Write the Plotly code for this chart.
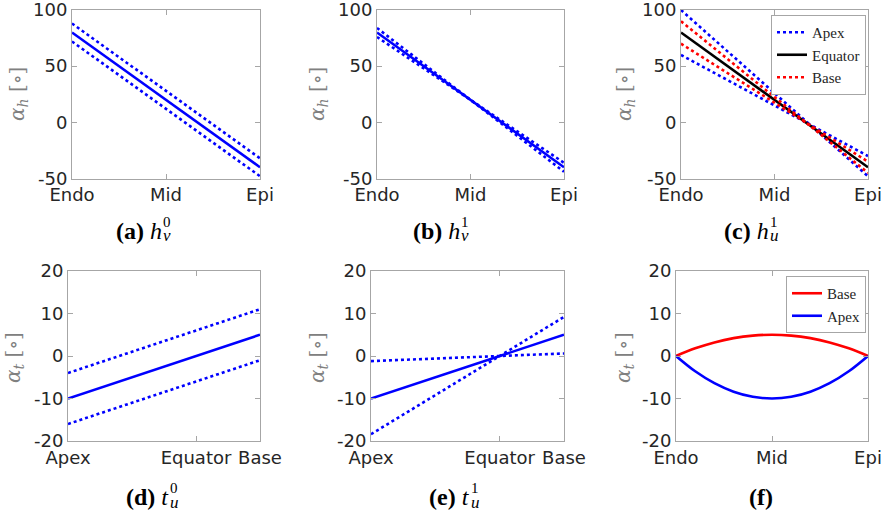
import plotly.graph_objects as go

W, H = 885, 520

# ---------------- data ----------------
x_wall = [0, 1]                      # Endo -> Epi
wall_ticks = [0, 0.5, 1]
wall_labels = ["Endo", "Mid", "Epi"]

x_long = [0, 1]                      # Apex -> Base
long_ticks = [0, 2 / 3, 1]
long_labels = ["Apex", "Equator", "Base"]

h_ticks = [-50, 0, 50, 100]
h_labels = ["-50", "0", "50", "100"]
t_ticks = [-20, -10, 0, 10, 20]
t_labels = ["-20", "-10", "0", "10", "20"]

# (a) h_v^0
a_mid = [80, -40]
a_hi = [88, -32]
a_lo = [72, -48]
# (b) h_v^1
b_mid = [80, -40]
b_one = [84, -44]
b_two = [76, -36]
# (c) h_u^1
c_apex_hi = [100, -48]
c_apex_lo = [60, -30]
c_equator = [80, -40]
c_base_hi = [90, -45]
c_base_lo = [70, -35]
# (d) t_u^0
d_mid = [-10, 5]
d_hi = [-4, 11]
d_lo = [-16, -1]
# (e) t_u^1
e_mid = [-10, 5]
e_flat = [-1.2, 0.6]
e_steep = [-18.4, 9.2]
# (f)
x_f = [0, 0.1, 0.2, 0.3, 0.4, 0.5, 0.6, 0.7, 0.8, 0.9, 1.0]
f_base = [0, 1.8, 3.2, 4.2, 4.8, 5, 4.8, 4.2, 3.2, 1.8, 0]
f_apex = [0, -3.6, -6.4, -8.4, -9.6, -10, -9.6, -8.4, -6.4, -3.6, 0]

BLUE, RED, BLACK = "#0000ff", "#ff0000", "#000000"
AX = "#a6a6a6"
TXT = "#262626"


def fx(px):
    return px / W


def fy(py):
    return 1 - py / H


# axes boxes in pixels: (left, right, top, bottom)
boxes = [
    (72, 260, 10, 178.5),
    (377, 564, 10, 178.5),
    (681, 868, 10, 178.5),
    (68, 260, 271, 441),
    (371, 564, 271, 441),
    (676, 868, 271, 441),
]

fig = go.Figure()


def add(i, x, y, color, dash="solid", width=2.6, name=None, show=False, group=None, legend="legend"):
    sfx = "" if i == 0 else str(i + 1)
    fig.add_trace(go.Scatter(
        x=x, y=y, mode="lines",
        line=dict(color=color, dash=dash, width=width),
        name=name, showlegend=show, legendgroup=group, legend=legend,
        xaxis="x" + sfx, yaxis="y" + sfx, hoverinfo="skip"))


# (a)
add(0, x_wall, a_hi, BLUE, "dot")
add(0, x_wall, a_lo, BLUE, "dot")
add(0, x_wall, a_mid, BLUE)
# (b)
add(1, x_wall, b_one, BLUE, "dot")
add(1, x_wall, b_two, BLUE, "dot")
add(1, x_wall, b_mid, BLUE)
# (c)
add(2, x_wall, c_apex_hi, BLUE, "dot", name="Apex", show=True, group="apex")
add(2, x_wall, c_apex_lo, BLUE, "dot", name="Apex", group="apex")
add(2, x_wall, c_equator, BLACK, name="Equator", show=True, group="eq")
add(2, x_wall, c_base_hi, RED, "dot", name="Base", show=True, group="base")
add(2, x_wall, c_base_lo, RED, "dot", name="Base", group="base")
# (d)
add(3, x_long, d_hi, BLUE, "dot")
add(3, x_long, d_lo, BLUE, "dot")
add(3, x_long, d_mid, BLUE)
# (e)
add(4, x_long, e_flat, BLUE, "dot")
add(4, x_long, e_steep, BLUE, "dot")
add(4, x_long, e_mid, BLUE)
# (f)
fig.add_trace(go.Scatter(x=x_f, y=f_base, mode="lines", line=dict(color=RED, width=2.6, shape="spline"),
                         name="Base", legend="legend2", xaxis="x6", yaxis="y6", hoverinfo="skip"))
fig.add_trace(go.Scatter(x=x_f, y=f_apex, mode="lines", line=dict(color=BLUE, width=2.6, shape="spline"),
                         name="Apex", legend="legend2", xaxis="x6", yaxis="y6", hoverinfo="skip"))

layout = {}
tickfont = dict(family="DejaVu Sans", size=18, color=TXT)
for i, (l, r, t, b) in enumerate(boxes):
    sfx = "" if i == 0 else str(i + 1)
    top_row = i < 3
    if i in (3, 4):
        tv, tt = long_ticks, long_labels
    else:
        tv, tt = wall_ticks, wall_labels
    if top_row:
        yr, ytv, ytt = [-50, 100], h_ticks, h_labels
    else:
        yr, ytv, ytt = [-20, 20], t_ticks, t_labels
    common = dict(showline=True, linecolor=AX, linewidth=1, mirror="ticks", ticks="inside",
                  ticklen=5, tickcolor=AX, showgrid=False, zeroline=False, tickfont=tickfont,
                  fixedrange=True, ticklabeloverflow="allow")
    layout["xaxis" + sfx] = dict(domain=[fx(l), fx(r)], range=[0, 1], tickvals=tv, ticktext=tt,
                                 anchor="y" + sfx, **common)
    layout["yaxis" + sfx] = dict(domain=[fy(b), fy(t)], range=yr, tickvals=ytv, ticktext=ytt,
                                 anchor="x" + sfx, **common)

fig.update_layout(**layout)

annotations = []
# y-axis titles
ytitles = [
    (18, 94, "h"), (318, 94, "h"), (625, 94, "h"),
    (14, 358, "t"), (318, 358, "t"), (624, 358, "t"),
]
for x, y, s in ytitles:
    annotations.append(dict(x=fx(x), y=fy(y), xref="paper", yref="paper", showarrow=False,
                            text="<i>α</i><sub><i>" + s + "</i></sub> [∘]", textangle=-90,
                            font=dict(family="DejaVu Serif", size=20, color="#808080"),
                            xanchor="center", yanchor="middle"))

# captions: (label, main letter, sup, sub, x split, y center)
caps = [
    ("(a)", "h", "0", "v", 164, 231),
    ("(b)", "h", "1", "v", 462, 231),
    ("(c)", "h", "1", "u", 771, 231),
    ("(d)", "t", "0", "u", 171, 497),
    ("(e)", "t", "1", "u", 472, 497),
]
capfont = dict(family="Liberation Serif", size=24, color="#000000")
for lab, m, sp, sb, xs, yc in caps:
    annotations.append(dict(x=fx(xs), y=fy(yc), xref="paper", yref="paper", showarrow=False,
                            text="<b>" + lab + "</b> <i>" + m + "</i>", font=capfont,
                            xanchor="right", yanchor="middle"))
    annotations.append(dict(x=fx(xs - 3), y=fy(yc - 9), xref="paper", yref="paper", showarrow=False,
                            text=sp, font=dict(family="Liberation Serif", size=15, color="#000000"),
                            xanchor="left", yanchor="middle"))
    annotations.append(dict(x=fx(xs - 3), y=fy(yc + 5), xref="paper", yref="paper", showarrow=False,
                            text="<i>" + sb + "</i>", font=dict(family="Liberation Serif", size=17, color="#000000"),
                            xanchor="left", yanchor="middle"))
annotations.append(dict(x=fx(761), y=fy(497), xref="paper", yref="paper", showarrow=False,
                        text="<b>(f)</b>", font=capfont, xanchor="center", yanchor="middle"))

legfont = dict(family="Liberation Serif", size=15, color=TXT)
fig.update_layout(
    width=W, height=H, margin=dict(l=0, r=0, t=0, b=0, autoexpand=False),
    paper_bgcolor="white", plot_bgcolor="white",
    annotations=annotations,
    legend=dict(x=fx(866), y=fy(15), xanchor="right", yanchor="top", bgcolor="white",
                bordercolor=AX, borderwidth=1, font=legfont, itemwidth=30, tracegroupgap=0,
                traceorder="normal"),
    legend2=dict(x=fx(866), y=fy(276), xanchor="right", yanchor="top", bgcolor="white",
                 bordercolor=AX, borderwidth=1, font=legfont, itemwidth=30),
)

fig.write_html("out.html")
